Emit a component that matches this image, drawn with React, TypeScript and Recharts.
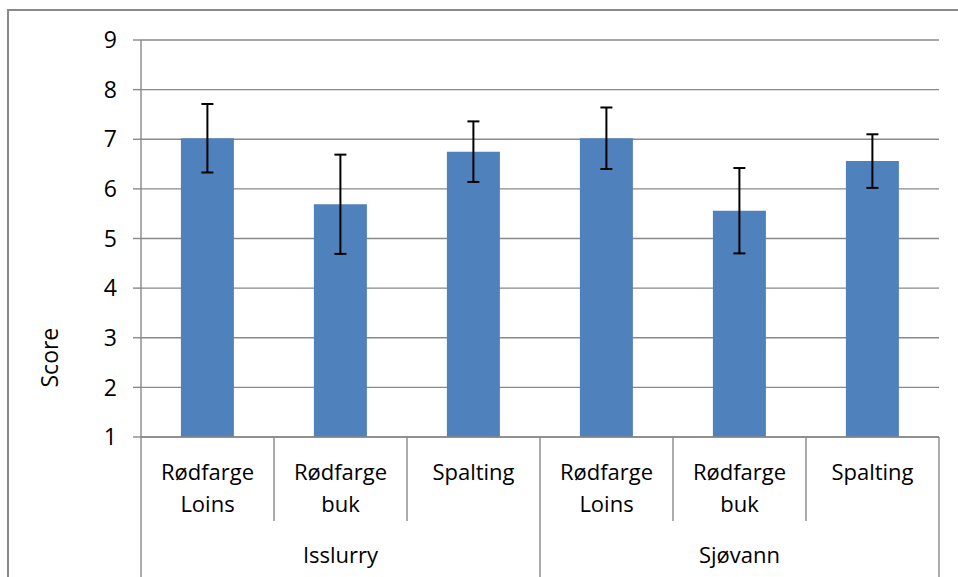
import { BarChart, Bar, XAxis, YAxis, CartesianGrid, ErrorBar } from "recharts";

const categories = [
  "Rødfarge Loins",
  "Rødfarge buk",
  "Spalting",
  "Rødfarge Loins",
  "Rødfarge buk",
  "Spalting",
];
const groups = ["Isslurry", "Isslurry", "Isslurry", "Sjøvann", "Sjøvann", "Sjøvann"];
const scores = [7.02, 5.69, 6.75, 7.02, 5.56, 6.56];
const errors = [0.69, 1.0, 0.61, 0.62, 0.86, 0.54];
const yTicks = [1, 2, 3, 4, 5, 6, 7, 8, 9];

const data = categories.map((name, i) => ({
  key: `${groups[i]}-${i}`,
  name,
  group: groups[i],
  score: scores[i],
  err: errors[i],
}));

const GRAY = "#898989";
const FONT = "'Open Sans', sans-serif";
const W = 958;
const H = 577;
const M = { top: 40, right: 19, left: 0, bottom: 0 };
const Y_W = 141;
const X_H = 140;
const band = (W - M.left - M.right - Y_W) / data.length;

const CategoryTick = (props: any) => {
  const { x, y, index } = props;
  const half = band / 2;
  const row = data[index];
  const lines = row.name.split(" ");
  const isGroupStart = index === 0 || data[index - 1].group !== row.group;
  const isLast = index === data.length - 1;
  // middle of each group run gets the group label
  const members = data.filter((d) => d.group === row.group);
  const firstIdx = data.findIndex((d) => d.group === row.group);
  const midIdx = firstIdx + Math.floor(members.length / 2);
  return (
    <g>
      <line
        x1={x - half}
        x2={x - half}
        y1={y}
        y2={isGroupStart ? H : y + 84}
        stroke={GRAY}
        strokeWidth={1.4}
      />
      {isLast && (
        <line x1={x + half} x2={x + half} y1={y} y2={H} stroke={GRAY} strokeWidth={1.4} />
      )}
      {lines.map((ln: string, i: number) => (
        <text
          key={i}
          x={x}
          y={y + 43 + i * 32}
          textAnchor="middle"
          fontSize={22}
          fontFamily={FONT}
          fill="#000"
        >
          {ln}
        </text>
      ))}
      {index === midIdx && (
        <text x={x} y={y + 126} textAnchor="middle" fontSize={22} fontFamily={FONT} fill="#000">
          {row.group}
        </text>
      )}
    </g>
  );
};

const ScoreLabel = (props: any) => {
  const { viewBox } = props;
  const cx = 49;
  const cy = viewBox.y + viewBox.height * 0.8;
  return (
    <text
      x={cx}
      y={cy}
      transform={`rotate(-90, ${cx}, ${cy})`}
      textAnchor="middle"
      dominantBaseline="central"
      fontSize={23}
      fontFamily={FONT}
      fill="#000"
    >
      Score
    </text>
  );
};

export default function App() {
  return (
    <div style={{ position: "relative", width: W, height: H, overflow: "hidden", background: "#fff" }}>
      <style>{`body{margin:0}`}</style>
      <div
        style={{
          position: "absolute",
          left: 7,
          top: 9,
          width: 2000,
          height: 2000,
          border: `2px solid ${GRAY}`,
        }}
      />
      <div style={{ position: "absolute", left: 0, top: 0 }}>
        <BarChart width={W} height={H} data={data} margin={M} barCategoryGap="30%">
          <CartesianGrid vertical={false} stroke={GRAY} strokeWidth={1.4} />
          <XAxis
            dataKey="key"
            height={X_H}
            tickLine={false}
            tickSize={0}
            tickMargin={0}
            axisLine={{ stroke: GRAY, strokeWidth: 1.4 }}
            interval={0}
            tick={<CategoryTick />}
          />
          <YAxis
            width={Y_W}
            domain={[1, 9]}
            ticks={yTicks}
            interval={0}
            tickSize={8}
            tickMargin={16}
            tickLine={{ stroke: GRAY, strokeWidth: 1.4 }}
            axisLine={{ stroke: GRAY, strokeWidth: 1.4 }}
            tick={{ fontSize: 23, fontFamily: FONT, fill: "#000" }}
            label={<ScoreLabel />}
          />
          <Bar dataKey="score" fill="#4F81BD" isAnimationActive={false}>
            <ErrorBar dataKey="err" width={6} stroke="#000" strokeWidth={2} direction="y" />
          </Bar>
        </BarChart>
      </div>
    </div>
  );
}
